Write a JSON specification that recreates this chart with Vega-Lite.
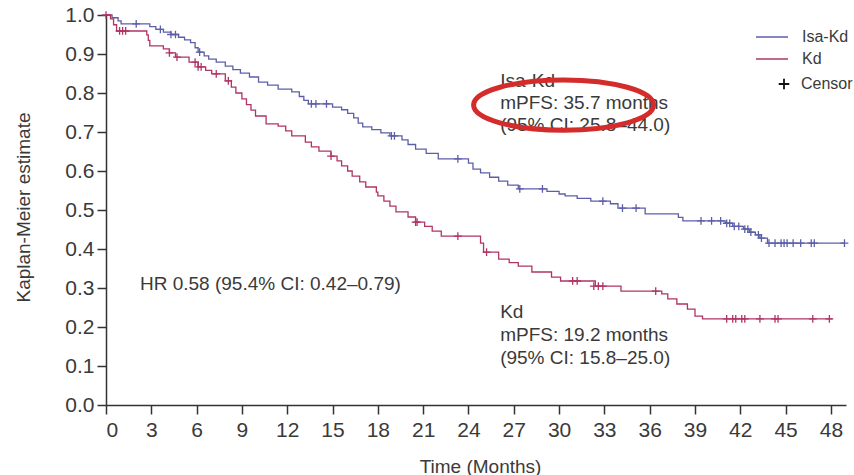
{
  "$schema": "https://vega.github.io/schema/vega-lite/v6.json",
  "width": 740,
  "height": 390,
  "autosize": "none",
  "padding": {"left": 106, "top": 15, "right": 8, "bottom": 70},
  "background": "white",
  "config": {
    "view": {"stroke": null},
    "font": "Liberation Sans",
    "axis": {
      "grid": false,
      "domainColor": "#333333",
      "domainWidth": 1.5,
      "tickColor": "#333333",
      "tickWidth": 1.5,
      "tickSize": 9,
      "labelFont": "Liberation Sans",
      "labelFontSize": 21,
      "labelColor": "#3a3a3a",
      "titleFont": "Liberation Sans",
      "titleFontSize": 19,
      "titleFontWeight": "normal",
      "titleColor": "#3a3a3a"
    },
    "legend": {
      "labelFont": "Liberation Sans",
      "labelColor": "#3a3a3a",
      "labelFontSize": 16,
      "padding": 0
    }
  },
  "datasets": {
    "curve": [
      {"arm": "Isa-Kd", "t": 0, "s": 1.0},
      {"arm": "Isa-Kd", "t": 0.4, "s": 0.993},
      {"arm": "Isa-Kd", "t": 0.8, "s": 0.985},
      {"arm": "Isa-Kd", "t": 1.0, "s": 0.977},
      {"arm": "Isa-Kd", "t": 2.9, "s": 0.970},
      {"arm": "Isa-Kd", "t": 3.3, "s": 0.963},
      {"arm": "Isa-Kd", "t": 3.8, "s": 0.956},
      {"arm": "Isa-Kd", "t": 4.3, "s": 0.950},
      {"arm": "Isa-Kd", "t": 4.8, "s": 0.943},
      {"arm": "Isa-Kd", "t": 5.2, "s": 0.936},
      {"arm": "Isa-Kd", "t": 5.6, "s": 0.929},
      {"arm": "Isa-Kd", "t": 5.9, "s": 0.916},
      {"arm": "Isa-Kd", "t": 6.1, "s": 0.905},
      {"arm": "Isa-Kd", "t": 6.5, "s": 0.895},
      {"arm": "Isa-Kd", "t": 6.8, "s": 0.887},
      {"arm": "Isa-Kd", "t": 7.3, "s": 0.879},
      {"arm": "Isa-Kd", "t": 7.9, "s": 0.869},
      {"arm": "Isa-Kd", "t": 8.4, "s": 0.860},
      {"arm": "Isa-Kd", "t": 8.9, "s": 0.851},
      {"arm": "Isa-Kd", "t": 9.5, "s": 0.841},
      {"arm": "Isa-Kd", "t": 10.1, "s": 0.828},
      {"arm": "Isa-Kd", "t": 10.7, "s": 0.820},
      {"arm": "Isa-Kd", "t": 11.4, "s": 0.810},
      {"arm": "Isa-Kd", "t": 12.3, "s": 0.803},
      {"arm": "Isa-Kd", "t": 12.8, "s": 0.791},
      {"arm": "Isa-Kd", "t": 13.1, "s": 0.781},
      {"arm": "Isa-Kd", "t": 13.4, "s": 0.772},
      {"arm": "Isa-Kd", "t": 15.0, "s": 0.764},
      {"arm": "Isa-Kd", "t": 15.6, "s": 0.757},
      {"arm": "Isa-Kd", "t": 16.0, "s": 0.748},
      {"arm": "Isa-Kd", "t": 16.4, "s": 0.736},
      {"arm": "Isa-Kd", "t": 16.7, "s": 0.723},
      {"arm": "Isa-Kd", "t": 17.0, "s": 0.713},
      {"arm": "Isa-Kd", "t": 17.6, "s": 0.706},
      {"arm": "Isa-Kd", "t": 18.2, "s": 0.698},
      {"arm": "Isa-Kd", "t": 18.8, "s": 0.690},
      {"arm": "Isa-Kd", "t": 19.6, "s": 0.680},
      {"arm": "Isa-Kd", "t": 20.0, "s": 0.668},
      {"arm": "Isa-Kd", "t": 20.5, "s": 0.656},
      {"arm": "Isa-Kd", "t": 21.2, "s": 0.645},
      {"arm": "Isa-Kd", "t": 22.0, "s": 0.631},
      {"arm": "Isa-Kd", "t": 24.0, "s": 0.620},
      {"arm": "Isa-Kd", "t": 24.3, "s": 0.605},
      {"arm": "Isa-Kd", "t": 24.8, "s": 0.595},
      {"arm": "Isa-Kd", "t": 25.4, "s": 0.584},
      {"arm": "Isa-Kd", "t": 26.0, "s": 0.574},
      {"arm": "Isa-Kd", "t": 26.6, "s": 0.564},
      {"arm": "Isa-Kd", "t": 27.3, "s": 0.554},
      {"arm": "Isa-Kd", "t": 29.2, "s": 0.548},
      {"arm": "Isa-Kd", "t": 30.0, "s": 0.541},
      {"arm": "Isa-Kd", "t": 30.4, "s": 0.536},
      {"arm": "Isa-Kd", "t": 31.2, "s": 0.530},
      {"arm": "Isa-Kd", "t": 32.1, "s": 0.523},
      {"arm": "Isa-Kd", "t": 33.4, "s": 0.516},
      {"arm": "Isa-Kd", "t": 33.9, "s": 0.505},
      {"arm": "Isa-Kd", "t": 35.7, "s": 0.490},
      {"arm": "Isa-Kd", "t": 37.9, "s": 0.481},
      {"arm": "Isa-Kd", "t": 38.2, "s": 0.472},
      {"arm": "Isa-Kd", "t": 41.0, "s": 0.466},
      {"arm": "Isa-Kd", "t": 41.5, "s": 0.458},
      {"arm": "Isa-Kd", "t": 42.2, "s": 0.451},
      {"arm": "Isa-Kd", "t": 42.6, "s": 0.443},
      {"arm": "Isa-Kd", "t": 43.0, "s": 0.436},
      {"arm": "Isa-Kd", "t": 43.3, "s": 0.428},
      {"arm": "Isa-Kd", "t": 43.8, "s": 0.415},
      {"arm": "Isa-Kd", "t": 48.9, "s": 0.415},
      {"arm": "Kd", "t": 0, "s": 1.0},
      {"arm": "Kd", "t": 0.3, "s": 0.990},
      {"arm": "Kd", "t": 0.5, "s": 0.975},
      {"arm": "Kd", "t": 0.7, "s": 0.959},
      {"arm": "Kd", "t": 2.7, "s": 0.949},
      {"arm": "Kd", "t": 2.8, "s": 0.935},
      {"arm": "Kd", "t": 2.9, "s": 0.921},
      {"arm": "Kd", "t": 3.8, "s": 0.913},
      {"arm": "Kd", "t": 4.2, "s": 0.903},
      {"arm": "Kd", "t": 4.6, "s": 0.892},
      {"arm": "Kd", "t": 5.5, "s": 0.879},
      {"arm": "Kd", "t": 6.1, "s": 0.867},
      {"arm": "Kd", "t": 6.6, "s": 0.858},
      {"arm": "Kd", "t": 7.0, "s": 0.849},
      {"arm": "Kd", "t": 7.9, "s": 0.831},
      {"arm": "Kd", "t": 8.3, "s": 0.815},
      {"arm": "Kd", "t": 8.6, "s": 0.800},
      {"arm": "Kd", "t": 9.0, "s": 0.785},
      {"arm": "Kd", "t": 9.3, "s": 0.770},
      {"arm": "Kd", "t": 9.6, "s": 0.756},
      {"arm": "Kd", "t": 9.9, "s": 0.741},
      {"arm": "Kd", "t": 10.6, "s": 0.721},
      {"arm": "Kd", "t": 11.4, "s": 0.715},
      {"arm": "Kd", "t": 11.9, "s": 0.703},
      {"arm": "Kd", "t": 12.3, "s": 0.690},
      {"arm": "Kd", "t": 13.2, "s": 0.674},
      {"arm": "Kd", "t": 13.6, "s": 0.662},
      {"arm": "Kd", "t": 14.1, "s": 0.651},
      {"arm": "Kd", "t": 14.9, "s": 0.638},
      {"arm": "Kd", "t": 15.3, "s": 0.626},
      {"arm": "Kd", "t": 15.6, "s": 0.613},
      {"arm": "Kd", "t": 16.0, "s": 0.600},
      {"arm": "Kd", "t": 16.3, "s": 0.587},
      {"arm": "Kd", "t": 16.8, "s": 0.572},
      {"arm": "Kd", "t": 17.2, "s": 0.559},
      {"arm": "Kd", "t": 17.9, "s": 0.546},
      {"arm": "Kd", "t": 18.0, "s": 0.536},
      {"arm": "Kd", "t": 18.4, "s": 0.523},
      {"arm": "Kd", "t": 18.8, "s": 0.510},
      {"arm": "Kd", "t": 19.2, "s": 0.495},
      {"arm": "Kd", "t": 20.0, "s": 0.482},
      {"arm": "Kd", "t": 20.5, "s": 0.469},
      {"arm": "Kd", "t": 21.1, "s": 0.458},
      {"arm": "Kd", "t": 21.6, "s": 0.446},
      {"arm": "Kd", "t": 22.2, "s": 0.433},
      {"arm": "Kd", "t": 24.8, "s": 0.415},
      {"arm": "Kd", "t": 25.0, "s": 0.392},
      {"arm": "Kd", "t": 26.0, "s": 0.374},
      {"arm": "Kd", "t": 26.7, "s": 0.365},
      {"arm": "Kd", "t": 27.3, "s": 0.356},
      {"arm": "Kd", "t": 28.2, "s": 0.341},
      {"arm": "Kd", "t": 29.5, "s": 0.328},
      {"arm": "Kd", "t": 30.1, "s": 0.318},
      {"arm": "Kd", "t": 32.4, "s": 0.305},
      {"arm": "Kd", "t": 34.1, "s": 0.292},
      {"arm": "Kd", "t": 36.8, "s": 0.285},
      {"arm": "Kd", "t": 37.2, "s": 0.272},
      {"arm": "Kd", "t": 37.8, "s": 0.259},
      {"arm": "Kd", "t": 38.5, "s": 0.246},
      {"arm": "Kd", "t": 39.0, "s": 0.228},
      {"arm": "Kd", "t": 39.5, "s": 0.221},
      {"arm": "Kd", "t": 48.1, "s": 0.221}
    ],
    "censor": [
      {"arm": "Isa-Kd", "t": 2.0, "s": 0.977},
      {"arm": "Isa-Kd", "t": 3.6, "s": 0.963},
      {"arm": "Isa-Kd", "t": 4.3, "s": 0.950},
      {"arm": "Isa-Kd", "t": 4.6, "s": 0.950},
      {"arm": "Isa-Kd", "t": 6.2, "s": 0.905},
      {"arm": "Isa-Kd", "t": 13.6, "s": 0.772},
      {"arm": "Isa-Kd", "t": 13.9, "s": 0.772},
      {"arm": "Isa-Kd", "t": 14.6, "s": 0.772},
      {"arm": "Isa-Kd", "t": 18.9, "s": 0.690},
      {"arm": "Isa-Kd", "t": 19.1, "s": 0.690},
      {"arm": "Isa-Kd", "t": 23.3, "s": 0.631},
      {"arm": "Isa-Kd", "t": 27.4, "s": 0.554},
      {"arm": "Isa-Kd", "t": 28.9, "s": 0.554},
      {"arm": "Isa-Kd", "t": 32.9, "s": 0.523},
      {"arm": "Isa-Kd", "t": 34.2, "s": 0.505},
      {"arm": "Isa-Kd", "t": 35.1, "s": 0.505},
      {"arm": "Isa-Kd", "t": 39.4, "s": 0.472},
      {"arm": "Isa-Kd", "t": 40.1, "s": 0.472},
      {"arm": "Isa-Kd", "t": 40.7, "s": 0.472},
      {"arm": "Isa-Kd", "t": 41.1, "s": 0.466},
      {"arm": "Isa-Kd", "t": 41.3, "s": 0.466},
      {"arm": "Isa-Kd", "t": 41.6, "s": 0.458},
      {"arm": "Isa-Kd", "t": 41.9, "s": 0.458},
      {"arm": "Isa-Kd", "t": 42.3, "s": 0.451},
      {"arm": "Isa-Kd", "t": 42.5, "s": 0.451},
      {"arm": "Isa-Kd", "t": 42.7, "s": 0.443},
      {"arm": "Isa-Kd", "t": 43.2, "s": 0.436},
      {"arm": "Isa-Kd", "t": 43.4, "s": 0.428},
      {"arm": "Isa-Kd", "t": 43.9, "s": 0.415},
      {"arm": "Isa-Kd", "t": 44.3, "s": 0.415},
      {"arm": "Isa-Kd", "t": 44.7, "s": 0.415},
      {"arm": "Isa-Kd", "t": 44.9, "s": 0.415},
      {"arm": "Isa-Kd", "t": 45.1, "s": 0.415},
      {"arm": "Isa-Kd", "t": 45.5, "s": 0.415},
      {"arm": "Isa-Kd", "t": 46.0, "s": 0.415},
      {"arm": "Isa-Kd", "t": 46.7, "s": 0.415},
      {"arm": "Isa-Kd", "t": 46.9, "s": 0.415},
      {"arm": "Isa-Kd", "t": 48.9, "s": 0.415},
      {"arm": "Kd", "t": 0.0, "s": 1.0},
      {"arm": "Kd", "t": 0.9, "s": 0.959},
      {"arm": "Kd", "t": 1.1, "s": 0.959},
      {"arm": "Kd", "t": 1.3, "s": 0.959},
      {"arm": "Kd", "t": 4.2, "s": 0.903},
      {"arm": "Kd", "t": 4.7, "s": 0.892},
      {"arm": "Kd", "t": 5.9, "s": 0.879},
      {"arm": "Kd", "t": 6.1, "s": 0.867},
      {"arm": "Kd", "t": 6.3, "s": 0.867},
      {"arm": "Kd", "t": 7.3, "s": 0.849},
      {"arm": "Kd", "t": 8.1, "s": 0.831},
      {"arm": "Kd", "t": 14.9, "s": 0.638},
      {"arm": "Kd", "t": 20.5, "s": 0.469},
      {"arm": "Kd", "t": 20.6, "s": 0.469},
      {"arm": "Kd", "t": 23.3, "s": 0.433},
      {"arm": "Kd", "t": 25.2, "s": 0.392},
      {"arm": "Kd", "t": 30.9, "s": 0.318},
      {"arm": "Kd", "t": 31.2, "s": 0.318},
      {"arm": "Kd", "t": 32.3, "s": 0.305},
      {"arm": "Kd", "t": 32.6, "s": 0.305},
      {"arm": "Kd", "t": 32.9, "s": 0.305},
      {"arm": "Kd", "t": 36.4, "s": 0.292},
      {"arm": "Kd", "t": 41.1, "s": 0.221},
      {"arm": "Kd", "t": 41.5, "s": 0.221},
      {"arm": "Kd", "t": 41.7, "s": 0.221},
      {"arm": "Kd", "t": 42.1, "s": 0.221},
      {"arm": "Kd", "t": 42.3, "s": 0.221},
      {"arm": "Kd", "t": 43.3, "s": 0.221},
      {"arm": "Kd", "t": 44.3, "s": 0.221},
      {"arm": "Kd", "t": 44.5, "s": 0.221},
      {"arm": "Kd", "t": 46.8, "s": 0.221},
      {"arm": "Kd", "t": 47.9, "s": 0.221}
    ],
    "notes": [
      {"t": 26.1, "s": 0.815, "label": "Isa-Kd"},
      {"t": 26.1, "s": 0.759, "label": "mPFS: 35.7 months"},
      {"t": 26.1, "s": 0.703, "label": "(95% CI: 25.8–44.0)"},
      {"t": 26.1, "s": 0.223, "label": "Kd"},
      {"t": 26.1, "s": 0.163, "label": "mPFS: 19.2 months"},
      {"t": 26.1, "s": 0.105, "label": "(95% CI: 15.8–25.0)"},
      {"t": 2.25, "s": 0.295, "label": "HR 0.58 (95.4% CI: 0.42–0.79)"}
    ],
    "highlight": [
      {"t": 30.3, "s": 0.769}
    ]
  },
  "encoding": {
    "x": {
      "field": "t",
      "type": "quantitative",
      "scale": {"domain": [0, 49], "nice": false, "zero": false},
      "axis": {
        "title": "Time (Months)",
        "values": [0, 3, 6, 9, 12, 15, 18, 21, 24, 27, 30, 33, 36, 39, 42, 45, 48],
        "labelPadding": 5,
        "titleX": 374,
        "titleY": 67,
        "titleBaseline": "alphabetic"
      }
    },
    "y": {
      "field": "s",
      "type": "quantitative",
      "scale": {"domain": [0, 1], "nice": false},
      "axis": {
        "title": "Kaplan-Meier estimate",
        "values": [0, 0.1, 0.2, 0.3, 0.4, 0.5, 0.6, 0.7, 0.8, 0.9, 1.0],
        "format": ".1f",
        "labelPadding": 3,
        "titleX": -77,
        "titleY": 192,
        "titleBaseline": "alphabetic"
      }
    }
  },
  "layer": [
    {
      "data": {"name": "curve"},
      "mark": {"type": "line", "interpolate": "step-after", "strokeWidth": 1.3},
      "encoding": {
        "color": {
          "field": "arm",
          "type": "nominal",
          "scale": {"domain": ["Isa-Kd", "Kd"], "range": ["#5c5fa8", "#b03466"]},
          "legend": {
            "title": null,
            "orient": "none",
            "legendX": 657,
            "legendY": 13,
            "symbolType": "M-2,0H2",
            "symbolSize": 256,
            "symbolStrokeWidth": 1.5,
            "labelOffset": 21,
            "rowPadding": 5
          }
        }
      }
    },
    {
      "data": {"name": "censor"},
      "mark": {"type": "point", "filled": false, "size": 60, "strokeWidth": 1.3, "opacity": 1},
      "encoding": {
        "color": {"field": "arm", "type": "nominal", "legend": null},
        "shape": {
          "datum": "Censor",
          "scale": {"domain": ["Censor"], "range": ["M-1,0H1M0,-1V1"]},
          "legend": {
            "title": null,
            "orient": "none",
            "legendX": 670,
            "legendY": 61,
            "symbolSize": 110,
            "symbolStrokeColor": "#111111",
            "symbolFillColor": "transparent",
            "symbolStrokeWidth": 1.8,
            "labelOffset": 9
          }
        }
      }
    },
    {
      "data": {"values": [{"s": 0.5}]},
      "mark": {"type": "rule", "color": "#222222", "strokeWidth": 1, "strokeDash": [4, 3]},
      "encoding": {"y": {"field": "s", "type": "quantitative"}}
    },
    {
      "data": {"name": "notes"},
      "mark": {"type": "text", "align": "left", "baseline": "alphabetic", "fontSize": 19, "color": "#3a3a3a", "font": "Liberation Sans"},
      "encoding": {"text": {"field": "label", "type": "nominal"}}
    },
    {
      "data": {"name": "highlight"},
      "mark": {
        "type": "point",
        "shape": "M-1,0A1,0.28,0,1,0,1,0A1,0.28,0,1,0,-1,0Z",
        "size": 32400,
        "filled": false,
        "stroke": "#d42b2b",
        "strokeWidth": 5,
        "opacity": 1
      }
    }
  ]
}
